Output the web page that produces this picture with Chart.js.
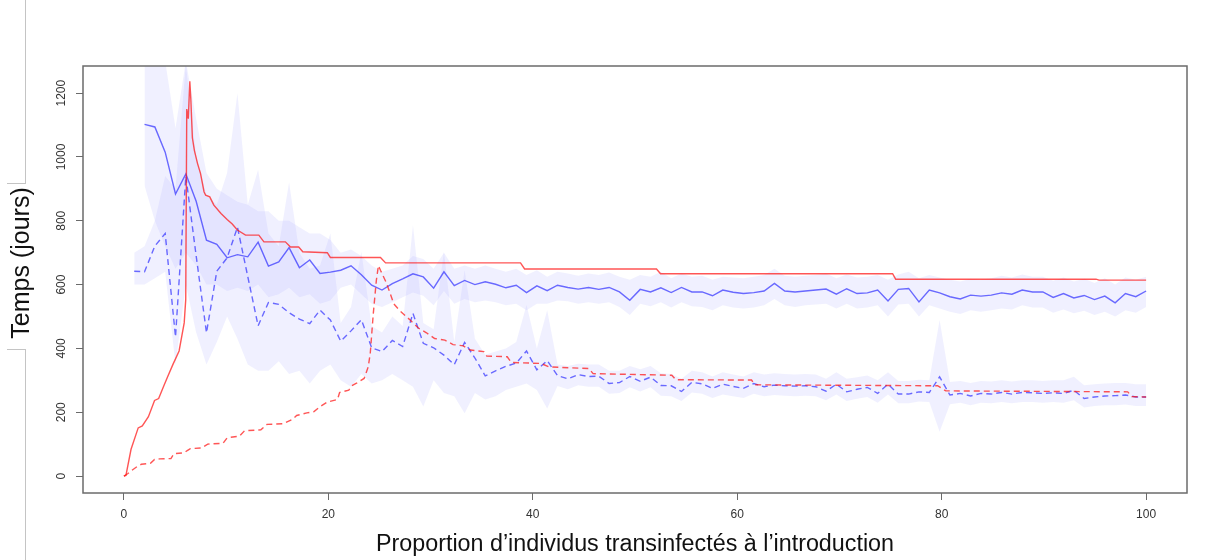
<!DOCTYPE html>
<html><head><meta charset="utf-8">
<script src="https://cdn.jsdelivr.net/npm/chart.js@4.4.1/dist/chart.umd.min.js"></script>
<style>
html,body{margin:0;padding:0;background:#fff;}
#wrap{position:relative;width:1206px;height:560px;overflow:hidden;}
canvas{display:block;}
.dl{position:absolute;background:#c4c4c4;}
</style></head><body>
<div id="wrap">
<canvas id="c" width="1206" height="560"></canvas>
<div class="dl" style="left:25px;top:0;width:1px;height:183px"></div>
<div class="dl" style="left:7px;top:183px;width:19px;height:1px"></div>
<div class="dl" style="left:7px;top:349px;width:19px;height:1px"></div>
<div class="dl" style="left:25px;top:349px;width:1px;height:211px"></div>
</div>
<script>
// sampled proportions (100 points from 0 to 100)
const xGrid = [0,1.01,2.02,3.03,4.04,5.05,6.06,7.07,8.08,9.09,10.1,11.11,12.12,13.13,14.14,15.15,16.16,17.17,18.18,19.19,20.2,21.21,22.22,23.23,24.24,25.25,26.26,27.27,28.28,29.29,30.3,31.31,32.32,33.33,34.34,35.35,36.36,37.37,38.38,39.39,40.4,41.41,42.42,43.43,44.44,45.45,46.46,47.47,48.48,49.49,50.51,51.52,52.53,53.54,54.55,55.56,56.57,57.58,58.59,59.6,60.61,61.62,62.63,63.64,64.65,65.66,66.67,67.68,68.69,69.7,70.71,71.72,72.73,73.74,74.75,75.76,76.77,77.78,78.79,79.8,80.81,81.82,82.83,83.84,84.85,85.86,86.87,87.88,88.89,89.9,90.91,91.92,92.93,93.94,94.95,95.96,96.97,97.98,98.99,100];

// blue solid (simulated) and its band
const blueSolid = [null,null,
1102,1094,1015,884,947,861,739,726,684,694,
687,733,658,671,716,653,677,635,639,645,
659,631,598,583,603,618,634,624,589,640,
597,613,600,609,601,590,598,575,596,581,
598,591,586,591,585,591,577,551,585,577,
590,575,591,577,577,565,583,576,572,575,
580,604,580,577,580,583,586,570,587,572,
574,583,549,585,588,546,583,574,562,555,
567,564,567,574,570,583,577,577,560,572,
558,566,553,564,543,572,562,580];
const blueSolidHi = [null,null,
1400,1400,1300,1090,1300,1120,950,900,880,860,850,830,830,800,800,780,760,760,740,
700,710,690,660,640,650,660,690,680,650,700,650,660,650,660,650,640,650,630,645,
625,640,635,628,635,630,638,625,615,630,625,640,620,635,625,628,615,625,622,620,
625,630,650,628,625,628,630,635,620,632,622,625,630,615,632,640,620,630,622,615,
610,618,615,620,628,622,632,625,625,612,622,610,618,605,620,600,622,615,625];
const blueSolidLo = [null,null,
910,800,720,650,700,660,600,600,580,590,580,600,560,570,590,560,570,540,550,
590,600,570,540,530,545,560,575,565,535,580,540,555,545,550,545,535,540,520,540,
540,550,548,540,545,540,545,530,505,540,532,545,528,545,532,530,520,535,528,525,
528,535,555,535,530,535,538,540,525,540,525,528,535,500,538,540,500,535,525,515,
508,520,515,520,525,522,535,528,528,512,522,510,518,505,515,500,520,512,530];

// blue dashed (simulated) and its band
const blueDash = [null,
642,640,721,760,436,940,690,449,642,684,
780,625,471,544,538,512,492,478,520,489,
423,455,490,402,390,425,406,510,416,402,
379,349,419,370,314,330,344,354,392,333,
362,315,305,318,312,313,290,293,312,297,
310,284,283,265,294,289,275,288,281,275,
290,280,285,283,282,283,280,266,288,264,
272,278,259,288,257,257,264,262,311,254,
259,251,259,257,262,257,262,261,259,261,
259,269,243,248,251,252,254,248,248];
const blueDashHi = [null,
700,720,800,940,900,1290,1000,880,850,950,1200,850,960,760,720,920,700,650,660,760,
480,530,703,470,450,500,470,786,480,460,703,420,646,430,380,390,400,420,536,400,
520,350,345,352,350,350,330,330,345,335,345,322,320,305,330,325,312,325,318,312,
325,318,322,320,318,320,318,305,325,305,310,315,300,325,298,298,302,300,489,295,
298,292,298,296,300,296,300,300,298,300,300,311,285,288,290,292,292,288,288];
const blueDashLo = [null,
600,600,620,640,350,600,450,350,420,500,430,350,330,330,360,320,330,290,330,350,
300,280,320,290,300,320,300,280,218,300,260,250,197,260,240,250,270,280,290,270,
212,282,272,285,280,280,258,260,278,265,278,252,250,235,262,258,245,256,250,245,
258,250,254,252,250,252,250,238,256,235,242,248,230,256,228,228,234,232,139,225,
230,222,230,228,232,228,232,232,230,232,230,238,215,220,222,222,224,220,220];

// red solid (model)
const redSolidX = [0,0.2,0.7,1.4,1.8,2.4,3.0,3.4,3.9,4.3,4.8,5.4,5.9,6.05,6.15,6.3,6.45,6.55,6.7,6.9,7.2,7.5,7.84,8.0,8.4,8.8,9.5,10.1,10.6,11.1,11.9,13.2,13.7,15.8,16.3,17.1,17.5,19.9,20.2,25.1,25.6,38.8,39.2,52.1,52.5,75.2,75.5,95.1,95.4,100];
const redSolidY = [0,2,84,151,157,186,237,243,282,313,350,392,480,553,1150,1120,1237,1180,1060,1020,980,948,891,880,875,849,823,804,790,771,755,755,734,734,718,718,703,700,685,685,668,668,649,649,634,634,617,617,614,614];

// red dashed (model)
const redDashX = [0,0.4,0.7,1.3,1.7,2.6,3.0,3.5,4.6,4.9,5.9,6.2,6.5,7.6,8.2,9.7,10.1,11.3,11.8,13.4,14.0,15.6,16.5,16.9,17.9,18.6,19.2,19.9,20.9,21.1,22.0,22.3,22.8,23.5,23.9,24.1,24.4,24.7,24.9,25.1,25.7,26.4,27.0,28.0,28.8,29.6,30.4,31.4,32.2,33.2,33.9,35.2,35.5,37.5,37.9,40.8,41.6,45.5,45.9,53.6,54.0,61.4,61.7,79.6,80.4,98.2,98.6,100];
const redDashY = [0,8,16,30,37,40,52,54,55,70,73,80,86,88,100,103,120,125,142,145,162,164,178,190,198,202,218,232,240,262,269,283,292,306,342,384,510,614,660,645,604,540,518,489,464,449,431,426,412,408,395,390,376,374,356,353,342,337,321,316,302,301,286,283,267,264,249,248];

const xTicks = [0,20,40,60,80,100];
const yTicks = [0,200,400,600,800,1000,1200];
const xTitle = 'Proportion d\u2019individus transinfect\u00e9s \u00e0 l\u2019introduction';
const yTitle = 'Temps (jours)';

const pts = (xs, ys) => xs.map((x, i) => ({x: x, y: ys[i]}));

const BLUE = 'rgba(40,40,255,0.68)';
const RED = 'rgba(255,20,20,0.72)';
const BAND = 'rgba(170,170,255,0.18)';
const FONT = "'Liberation Sans', Arial, sans-serif";

const frame = {
  id: 'frame',
  afterDraw(chart) {
    const a = chart.chartArea, c = chart.ctx;
    c.save();
    c.strokeStyle = '#6b6b6b';
    c.lineWidth = 1.5;
    c.strokeRect(a.left, a.top, a.right - a.left, a.bottom - a.top);
    // y-axis title (R places it slightly above the plot centre here)
    c.translate(22, 263);
    c.rotate(-Math.PI / 2);
    c.fillStyle = '#111';
    c.font = "25px " + FONT;
    c.textAlign = 'center';
    c.textBaseline = 'middle';
    c.fillText(yTitle, 0, 0);
    c.restore();
  }
};

new Chart(document.getElementById('c'), {
  type: 'line',
  data: {
    datasets: [
      {data: pts(redSolidX, redSolidY), borderColor: RED, borderWidth: 1.4, pointRadius: 0, fill: false, tension: 0},
      {data: pts(redDashX, redDashY), borderColor: RED, borderWidth: 1.4, borderDash: [6,4], pointRadius: 0, fill: false, tension: 0},
      {data: pts(xGrid, blueSolid), borderColor: BLUE, borderWidth: 1.4, pointRadius: 0, fill: false, tension: 0},
      {data: pts(xGrid, blueDash), borderColor: BLUE, borderWidth: 1.4, borderDash: [6,4], pointRadius: 0, fill: false, tension: 0},
      {data: pts(xGrid, blueSolidHi), borderWidth: 0, borderColor: 'rgba(0,0,0,0)', backgroundColor: BAND, pointRadius: 0, fill: '+1', tension: 0},
      {data: pts(xGrid, blueSolidLo), borderWidth: 0, borderColor: 'rgba(0,0,0,0)', pointRadius: 0, fill: false, tension: 0},
      {data: pts(xGrid, blueDashHi), borderWidth: 0, borderColor: 'rgba(0,0,0,0)', backgroundColor: BAND, pointRadius: 0, fill: '+1', tension: 0},
      {data: pts(xGrid, blueDashLo), borderWidth: 0, borderColor: 'rgba(0,0,0,0)', pointRadius: 0, fill: false, tension: 0}
    ]
  },
  options: {
    responsive: false,
    animation: false,
    devicePixelRatio: 1,
    layout: {padding: {left: 0, top: 66, right: 19, bottom: 0}},
    plugins: {legend: {display: false}, tooltip: {enabled: false}},
    scales: {
      x: {
        type: 'linear', min: -4, max: 104,
        afterBuildTicks: s => { s.ticks = xTicks.map(v => ({value: v})); },
        afterFit: s => { s.height = 67; },
        grid: {display: true, drawOnChartArea: false, drawTicks: true, tickLength: 7, color: '#6b6b6b', lineWidth: 1},
        border: {display: false},
        ticks: {font: {family: FONT, size: 12}, color: '#333', padding: 7, maxRotation: 0, autoSkip: false, callback: v => String(v)},
        title: {display: true, text: xTitle, font: {family: FONT, size: 23.3}, color: '#111', padding: {top: 0, bottom: 1}}
      },
      y: {
        type: 'linear', min: -53, max: 1285,
        afterBuildTicks: s => { s.ticks = yTicks.map(v => ({value: v})); },
        afterFit: s => { s.width = 83; },
        grid: {display: true, drawOnChartArea: false, drawTicks: true, tickLength: 7, color: '#6b6b6b', lineWidth: 1},
        border: {display: false},
        ticks: {font: {family: FONT, size: 12}, color: '#333', padding: 1, minRotation: 90, maxRotation: 90, crossAlign: 'center', autoSkip: false, callback: v => String(v)},
        title: {display: false}
      }
    }
  },
  plugins: [frame]
});
</script>
</body></html>
